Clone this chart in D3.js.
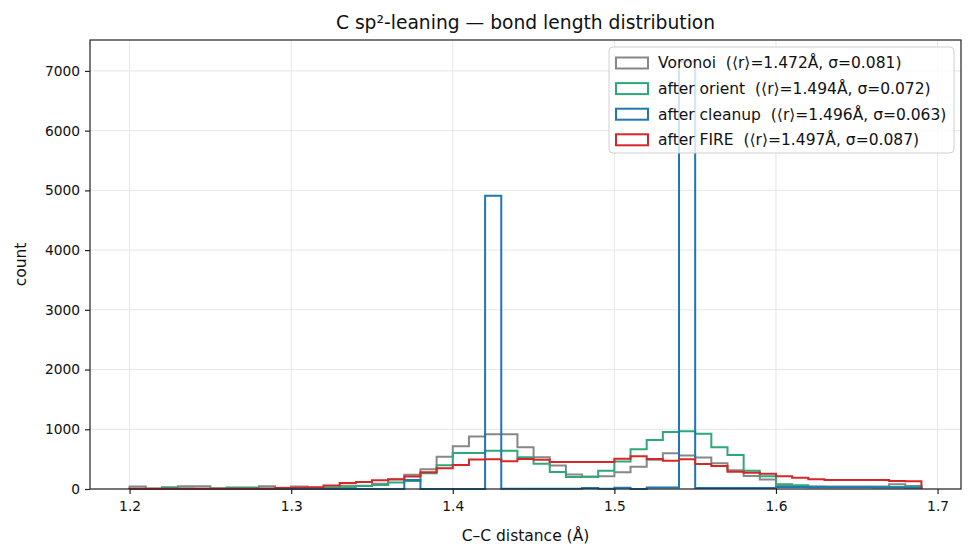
<!DOCTYPE html>
<html>
<head>
<meta charset="utf-8">
<script src="https://cdn.jsdelivr.net/npm/d3@7"></script>
<style>
  body { margin: 0; background: #fff; }
  text { font-family: "DejaVu Sans", sans-serif; fill: #111; white-space: pre; }
</style>
</head>
<body>
<script>
// bin edges (Å), 0.01 wide
const edges = [1.20,1.21,1.22,1.23,1.24,1.25,1.26,1.27,1.28,1.29,
               1.30,1.31,1.32,1.33,1.34,1.35,1.36,1.37,1.38,1.39,
               1.40,1.41,1.42,1.43,1.44,1.45,1.46,1.47,1.48,1.49,
               1.50,1.51,1.52,1.53,1.54,1.55,1.56,1.57,1.58,1.59,
               1.60,1.61,1.62,1.63,1.64,1.65,1.66,1.67,1.68,1.69];

// counts per bin
const voronoi = [40,5,10,45,45,10,10,10,45,20,
                 40,20,30,55,55,90,160,240,330,541,
                 715,877,918,918,700,530,395,243,207,215,
                 282,372,490,598,560,528,430,312,218,158,
                 50,40,40,40,40,40,40,78,50];
const orient = [5,5,30,10,5,10,25,25,10,5,
                5,10,17,28,50,67,110,135,262,398,
                603,603,640,640,530,422,285,201,205,307,
                460,665,821,955,968,927,700,570,305,212,
                80,62,38,35,35,35,35,35,38];
const cleanup = [0,0,0,0,0,0,0,0,0,0,
                 0,0,0,0,0,0,0,150,0,0,
                 0,0,4910,5,5,5,5,5,15,5,
                 20,0,25,25,7160,15,15,15,15,15,
                 35,35,30,30,30,30,25,25,20];
const fire = [5,5,5,5,5,5,5,5,5,15,
              20,30,60,100,117,145,162,208,282,346,
              400,494,497,464,503,490,452,452,452,452,
              508,547,503,475,497,419,386,290,274,257,
              212,190,162,150,150,150,150,132,130];

const seriesNames = ['Voronoi  (⟨r⟩=1.472Å, σ=0.081)',
                     'after orient  (⟨r⟩=1.494Å, σ=0.072)',
                     'after cleanup  (⟨r⟩=1.496Å, σ=0.063)',
                     'after FIRE  (⟨r⟩=1.497Å, σ=0.087)'];
const seriesColors = ['#878787', '#2fa878', '#1f77b4', '#d62728'];
const seriesData = [voronoi, orient, cleanup, fire];

const xTicks = [1.2, 1.3, 1.4, 1.5, 1.6, 1.7];
const yTicks = [0, 1000, 2000, 3000, 4000, 5000, 6000, 7000];

const W = 974, H = 557;
const margin = {top: 40, right: 13, bottom: 68, left: 90};
const width = W - margin.left - margin.right;
const height = H - margin.top - margin.bottom;

const svg = d3.select('body').append('svg')
  .attr('width', W)
  .attr('height', H);

const g = svg.append('g')
  .attr('transform', 'translate(' + margin.left + ',' + margin.top + ')');

// matplotlib style 5% padding on x, top of y
const xpad = (edges[edges.length - 1] - edges[0]) * 0.05;
const x = d3.scaleLinear()
  .domain([edges[0] - xpad, edges[edges.length - 1] + xpad])
  .range([0, width]);
const ymax = d3.max(seriesData, s => d3.max(s)) * 1.05;
const y = d3.scaleLinear()
  .domain([0, ymax])
  .range([height, 0]);

// grid
g.append('g').selectAll('line.gx')
  .data(xTicks)
  .enter().append('line')
  .attr('x1', d => x(d)).attr('x2', d => x(d))
  .attr('y1', 0).attr('y2', height)
  .attr('stroke', '#e6e6e6').attr('stroke-width', 1);
g.append('g').selectAll('line.gy')
  .data(yTicks)
  .enter().append('line')
  .attr('x1', 0).attr('x2', width)
  .attr('y1', d => y(d)).attr('y2', d => y(d))
  .attr('stroke', '#e6e6e6').attr('stroke-width', 1);

// step histograms
const line = d3.line()
  .x(d => x(d[0]))
  .y(d => y(d[1]));

function stepPoints(counts) {
  const pts = [[edges[0], 0]];
  counts.forEach((c, i) => {
    pts.push([edges[i], c]);
    pts.push([edges[i + 1], c]);
  });
  pts.push([edges[edges.length - 1], 0]);
  return pts;
}

seriesData.forEach((counts, i) => {
  g.append('path')
    .datum(stepPoints(counts))
    .attr('fill', 'none')
    .attr('stroke', seriesColors[i])
    .attr('stroke-width', 2)
    .attr('stroke-linejoin', 'miter')
    .attr('d', line);
});

// axes
const xAxis = g.append('g')
  .attr('transform', 'translate(0,' + height + ')')
  .call(d3.axisBottom(x).tickValues(xTicks).tickFormat(d3.format('.1f')).tickSizeOuter(0).tickSize(5).tickPadding(7));
const yAxis = g.append('g')
  .call(d3.axisLeft(y).tickValues(yTicks).tickFormat(d3.format('d')).tickSizeOuter(0).tickSize(5).tickPadding(5));
[xAxis, yAxis].forEach(a => {
  a.select('.domain').remove();
  a.selectAll('line').attr('stroke', '#222').attr('stroke-width', 1.2);
  a.selectAll('text').attr('font-size', 13.8).attr('font-family', 'DejaVu Sans').attr('fill', '#111');
});

// frame
g.append('rect')
  .attr('x', 0).attr('y', 0)
  .attr('width', width).attr('height', height)
  .attr('fill', 'none')
  .attr('stroke', '#222')
  .attr('stroke-width', 1.2);

// labels
svg.append('text')
  .attr('x', margin.left + width / 2)
  .attr('y', 29)
  .attr('text-anchor', 'middle')
  .attr('font-size', 18.7)
  .text('C sp²-leaning — bond length distribution');
svg.append('text')
  .attr('x', margin.left + width / 2)
  .attr('y', 541)
  .attr('text-anchor', 'middle')
  .attr('font-size', 15.5)
  .text('C–C distance (Å)');
svg.append('text')
  .attr('transform', 'translate(26,' + (margin.top + height / 2) + ') rotate(-90)')
  .attr('text-anchor', 'middle')
  .attr('font-size', 15.5)
  .text('count');

// legend
const legend = svg.append('g').attr('transform', 'translate(609,47)');
legend.append('rect')
  .attr('width', 345).attr('height', 106)
  .attr('rx', 4)
  .attr('fill', 'rgba(255,255,255,0.8)')
  .attr('stroke', '#d0d0d0');
seriesNames.forEach((name, i) => {
  const row = legend.append('g').attr('transform', 'translate(0,' + (16 + i * 25.6) + ')');
  row.append('rect')
    .attr('x', 7).attr('y', -5.5)
    .attr('width', 32).attr('height', 11)
    .attr('fill', 'none')
    .attr('stroke', seriesColors[i])
    .attr('stroke-width', 2);
  row.append('text')
    .attr('x', 49).attr('y', 0)
    .attr('dy', '0.35em')
    .attr('font-size', 15.5)
    .text(name);
});
</script>
</body>
</html>
